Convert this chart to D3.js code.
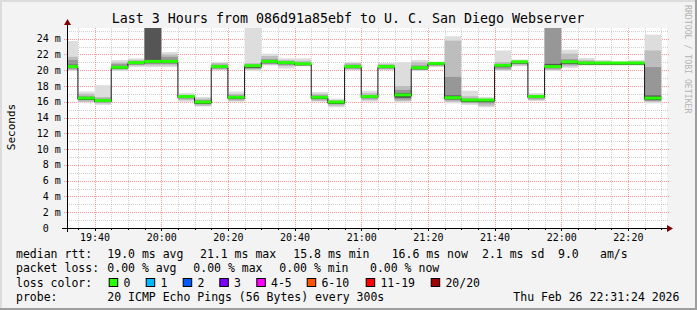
<!DOCTYPE html>
<html>
<head>
<meta charset="utf-8">
<script src="https://cdn.jsdelivr.net/npm/d3@7"></script>
<style>
  body { margin: 0; background: #f3f3f3; }
  svg { display: block; }
  text { font-family: "DejaVu Sans Mono", monospace; }
</style>
</head>
<body>
<svg width="697" height="310"></svg>
<script>
// 5 minute bins, start time of each bin
var binTimes = ["19:30","19:35","19:40","19:45","19:50","19:55","20:00","20:05","20:10","20:15",
  "20:20","20:25","20:30","20:35","20:40","20:45","20:50","20:55","21:00","21:05",
  "21:10","21:15","21:20","21:25","21:30","21:35","21:40","21:45","21:50","21:55",
  "22:00","22:05","22:10","22:15","22:20","22:25"];

// median rtt in ms
var median = [20.4,16.4,16.1,20.3,20.9,21.05,21.05,16.6,15.9,20.4,
  16.5,20.5,21.05,20.9,20.75,16.5,15.9,20.4,16.6,20.4,
  16.8,20.25,20.8,16.45,16.15,16.15,20.55,21.0,16.6,20.4,
  21.0,20.85,20.85,20.85,20.85,16.4];

// smoke bands (ms), outer (min/max) to inner
var smokeOuter = [[19.9,23.7],[15.9,17.3],[15.6,18.1],[19.9,21.3],[20.4,21.5],[20.4,26],[20.4,22.3],[16.0,17.1],[15.4,16.6],[20.0,21.05],
  [16.0,17.3],[19.9,26],[20.6,22.1],[20.2,21.5],[20.5,21.5],[16.0,17.25],[15.3,16.4],[20.0,21.05],[16.0,17.4],[20.0,20.9],
  [15.9,21.0],[19.9,21.3],[20.4,21.05],[15.8,24.3],[15.6,17.4],[15.3,16.6],[19.9,22.5],[20.5,21.35],[16.1,17.1],[19.9,26],
  [20.3,22.6],[20.6,21.55],[20.6,21.3],[20.6,21.1],[20.6,21.3],[15.8,24.5]];
var smokeMid1 = [[20.0,21.7],[16.0,17.0],[15.8,16.6],[20.0,21.0],[20.6,21.3],[20.6,26],[20.6,22.0],[16.2,16.9],[15.5,16.4],[20.1,20.9],
  [16.1,17.0],[20.1,20.9],[20.7,21.8],[20.5,21.3],[20.6,21.2],[16.1,17.0],[15.5,16.2],[20.1,20.9],[16.2,17.1],[20.1,20.8],
  [16.1,18.0],[20.0,21.0],[20.5,21.0],[16.0,23.75],[15.8,16.7],[15.5,16.4],[20.0,21.05],[20.6,21.2],[16.2,16.9],[20.0,26],
  [20.5,22.1],[20.65,21.3],[20.65,21.1],[20.65,21.0],[20.65,21.1],[16.0,22.5]];
var smokeMid2 = [[20.2,21.3],[16.2,16.7],[15.9,16.4],[20.2,20.8],[20.7,21.1],[20.8,26],[20.8,21.7],[16.4,16.8],[15.7,16.2],[20.2,20.7],
  [16.3,16.8],[20.2,20.7],[20.8,21.4],[20.7,21.1],[20.65,20.95],[16.3,16.8],[15.7,16.1],[20.2,20.7],[16.4,16.8],[20.2,20.6],
  [16.3,17.5],[20.1,20.6],[20.6,20.9],[16.2,19.15],[15.9,16.4],[15.8,16.3],[20.2,20.8],[20.8,21.1],[16.4,16.8],[20.2,26],
  [20.7,21.4],[20.7,21.1],[20.7,21.0],[20.7,20.95],[20.7,21.0],[16.1,20.4]];
var smokeInner = [[20.3,20.7],[16.3,16.6],[16.0,16.2],[20.25,20.5],[20.8,21.0],[20.9,26],[20.9,21.3],[16.5,16.7],[15.8,16.0],[20.3,20.5],
  [16.4,16.6],[20.3,20.6],[20.9,21.2],[20.8,21.0],[20.7,20.85],[16.4,16.6],[15.8,16.0],[20.3,20.5],[16.5,16.7],[20.3,20.5],
  [16.5,17.1],[20.2,20.4],[20.7,20.9],[16.35,16.8],[16.0,16.3],[16.0,16.25],[20.4,20.65],[20.9,21.05],[16.5,16.7],[20.3,20.8],
  [20.85,21.1],[20.8,20.95],[20.8,20.95],[20.8,20.9],[20.8,20.95],[16.3,16.8]];

var yTicks = [0,2,4,6,8,10,12,14,16,18,20,22,24];

var statRows = [
  ["median rtt:", "19.0 ms avg", "21.1 ms max", "15.8 ms min", "16.6 ms now", "2.1 ms sd", "9.0", "am/s"],
  ["packet loss:", "0.00 % avg", "0.00 % max", "0.00 % min", "0.00 % now"]
];
var lossLabels = ["0","1","2","3","4-5","6-10","11-19","20/20"];
var lossColors = ["#26ff00","#00b8ff","#0059ff","#7e00ff","#ff00ff","#ff5500","#ff0000","#a00000"];
var probeText = "20 ICMP Echo Pings (56 Bytes) every 300s";
var stampText = "Thu Feb 26 22:31:24 2026";

function t(hm) {
    var p = hm.split(":");
    return new Date(2026, 1, 26, +p[0], +p[1], 0);
}

var svg = d3.select("svg");
var pLeft = 67, pRight = 667, pTop = 28, pBottom = 228;

var x = d3.scaleTime()
    .domain([new Date(2026,1,26,19,31,44), new Date(2026,1,26,22,31,44)])
    .range([pLeft, pRight]);
var y = d3.scaleLinear().domain([0, 25.35]).range([pBottom, pTop]);

// frame
svg.append("rect").attr("width", 697).attr("height", 310).attr("fill", "#f3f3f3");
svg.append("path").attr("d", "M1,310V1H697").attr("fill", "none").attr("stroke", "#dcdcdc").attr("stroke-width", 2);
svg.append("path").attr("d", "M0,309H696V0").attr("fill", "none").attr("stroke", "#9e9e9e").attr("stroke-width", 2);

svg.append("rect").attr("x", pLeft).attr("y", pTop).attr("width", pRight - pLeft).attr("height", pBottom - pTop).attr("fill", "#fff");

svg.append("defs").append("clipPath").attr("id", "plot")
    .append("rect").attr("x", pLeft).attr("y", pTop).attr("width", pRight - pLeft).attr("height", pBottom - pTop);

// grid
var grid = svg.append("g");
d3.range(1, 26).forEach(function(v) {
    var major = v % 2 == 0;
    grid.append("line")
        .attr("x1", pLeft - (major ? 3 : 0)).attr("x2", pRight + 2)
        .attr("y1", Math.round(y(v)) + 0.5).attr("y2", Math.round(y(v)) + 0.5)
        .attr("stroke", major ? "rgba(255,0,0,0.4)" : "rgba(150,150,150,0.45)")
        .attr("stroke-dasharray", "1,1");
});
x.ticks(d3.timeMinute.every(5)).forEach(function(d) {
    var major = d.getMinutes() % 20 == 0;
    var xx = Math.round(x(d)) + 0.5;
    grid.append("line")
        .attr("x1", xx).attr("x2", xx).attr("y1", pTop).attr("y2", pBottom)
        .attr("stroke", major ? "rgba(255,0,0,0.4)" : "rgba(150,150,150,0.45)")
        .attr("stroke-dasharray", "1,1");
    grid.append("line")
        .attr("x1", xx).attr("x2", xx).attr("y1", pBottom).attr("y2", pBottom + (major ? 3 : 2))
        .attr("stroke", "#000");
});

// smoke
var smoke = svg.append("g").attr("clip-path", "url(#plot)");
var bands = [[smokeOuter, "#dddddd"], [smokeMid1, "#bdbdbd"], [smokeMid2, "#979797"], [smokeInner, "#555555"]];
bands.forEach(function(b) {
    smoke.selectAll(null).data(b[0]).enter().append("rect")
        .attr("x", function(d, i) { return x(t(binTimes[i])); })
        .attr("width", function(d, i) { return x(d3.timeMinute.offset(t(binTimes[i]), 5)) - x(t(binTimes[i])); })
        .attr("y", function(d) { return y(d[1]); })
        .attr("height", function(d) { return y(d[0]) - y(d[1]); })
        .attr("fill", b[1]);
});

// median step line
var pts = median.map(function(m, i) { return [t(binTimes[i]), m]; });
pts.push([d3.timeMinute.offset(t(binTimes[binTimes.length - 1]), 5), median[median.length - 1]]);
smoke.append("path")
    .attr("d", d3.line().x(function(d) { return x(d[0]); }).y(function(d) { return y(d[1]) + 0.5; }).curve(d3.curveStepAfter)(pts))
    .attr("fill", "none").attr("stroke", "#1a1a1a").attr("stroke-width", 1);
smoke.selectAll(null).data(median).enter().append("rect")
    .attr("x", function(d, i) { return x(t(binTimes[i])); })
    .attr("width", function(d, i) { return x(d3.timeMinute.offset(t(binTimes[i]), 5)) - x(t(binTimes[i])); })
    .attr("y", function(d) { return y(d) - 2; })
    .attr("height", 3)
    .attr("fill", lossColors[0]);

// axes
svg.append("line").attr("x1", 62).attr("x2", 669).attr("y1", pBottom + 0.5).attr("y2", pBottom + 0.5).attr("stroke", "#000");
svg.append("line").attr("x1", pLeft + 0.5).attr("x2", pLeft + 0.5).attr("y1", pBottom + 4).attr("y2", 24).attr("stroke", "#000");
svg.append("path").attr("d", "M667,225L673,228.5L667,232Z").attr("fill", "#800000");
svg.append("path").attr("d", "M64,25L67.5,19L71,25Z").attr("fill", "#800000");

svg.selectAll(".ylab").data(yTicks).enter().append("text")
    .attr("x", function(d) { return d == 0 ? 48.8 : 60.8; })
    .attr("y", function(d) { return y(d) + 3.6; })
    .attr("text-anchor", "end")
    .attr("font-size", "10px")
    .text(function(d) { return d == 0 ? "0" : d + " m"; });

svg.selectAll(".xlab").data(x.ticks(d3.timeMinute.every(20))).enter().append("text")
    .attr("x", function(d) { return x(d) + 0.5; })
    .attr("y", 240.5)
    .attr("text-anchor", "middle")
    .attr("font-size", "10px")
    .text(d3.timeFormat("%H:%M"));

// titles
svg.append("text").attr("x", 348).attr("y", 23).attr("text-anchor", "middle").attr("font-size", "13.3px")
    .text("Last 3 Hours from 086d91a85ebf to U. C. San Diego Webserver");
svg.append("text").attr("transform", "translate(14.5,127) rotate(-90)").attr("text-anchor", "middle")
    .attr("font-size", "11px").text("Seconds");
svg.append("text").attr("transform", "translate(684.5,5) rotate(90)").attr("font-size", "8.2px")
    .attr("fill", "#b4b4b4").text("RRDTOOL / TOBI OETIKER");

// legend
var statX = [[16, 107.3, 200, 293.3, 391.7, 482, 558, 600], [16, 107.3, 193.3, 279.3, 370]];
statRows.forEach(function(row, r) {
    row.forEach(function(s, i) {
        svg.append("text").attr("x", statX[r][i]).attr("y", 258 + r * 14.2)
            .attr("font-size", "11.5px").text(s);
    });
});
svg.append("text").attr("x", 16).attr("y", 286.5).attr("font-size", "11.5px").text("loss color:");
var boxX = [108.7, 145.7, 182.7, 219.3, 256.3, 306.7, 365.7, 430.7];
lossLabels.forEach(function(l, i) {
    svg.append("rect").attr("x", boxX[i] + 0.5).attr("y", 278.5).attr("width", 8.5).attr("height", 8)
        .attr("fill", lossColors[i]).attr("stroke", "#000");
    svg.append("text").attr("x", boxX[i] + 14.7).attr("y", 286.5).attr("font-size", "11.5px").text(l);
});
svg.append("text").attr("x", 16).attr("y", 300.6).attr("font-size", "11.5px").text("probe:");
svg.append("text").attr("x", 107.3).attr("y", 300.6).attr("font-size", "11.5px").text(probeText);
svg.append("text").attr("x", 513.3).attr("y", 300.6).attr("font-size", "11.5px").text(stampText);
</script>
</body>
</html>
